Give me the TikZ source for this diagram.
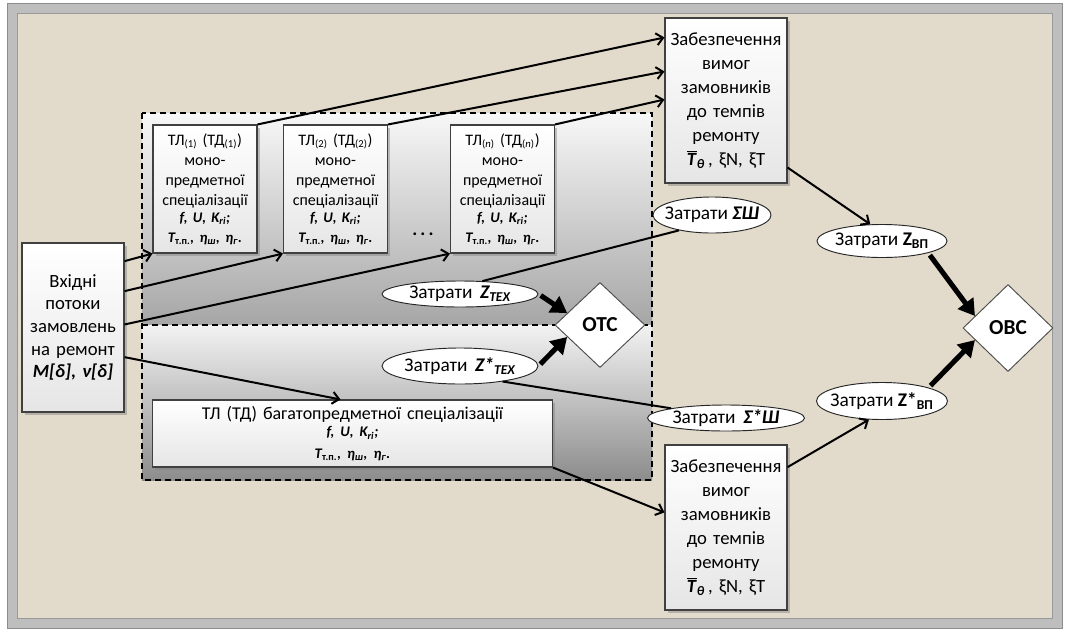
\documentclass[tikz,border=0pt]{standalone}
\usepackage{fontspec}
\setmainfont{Carlito}
\usetikzlibrary{shapes.geometric,arrows.meta,shadows}

\definecolor{polotno}{RGB}{226,218,202}
\definecolor{ramka}{RGB}{190,190,190}

% parametry linii
\newcommand{\fuk}{\textbf{\textit{f, U, K\textsubscript{ri};}}}
\newcommand{\ttn}{\textbf{\textit{T\textsubscript{\textup{т.п.}}, η\textsubscript{ш}, η\textsubscript{г}.}}}
\newcommand{\tempy}{Забезпечення\\вимог\\замовників\\до темпів\\ремонту\\$\overline{\mbox{\textbf{\textit{T}}}}$\textsubscript{\textbf{\textit{θ}}}\,, ξN, ξT}

\tikzset{
  blok/.style={draw=black!75, top color=white, bottom color=white!90!black, line width=0.8pt, align=center,
    inner xsep=2pt, inner ysep=0pt,
    drop shadow={shadow xshift=2pt, shadow yshift=-2pt, opacity=0.45}},
  ovall/.style={ellipse, draw=black!85, fill=white, line width=0.7pt,
    inner xsep=-40pt, inner ysep=-10pt, font=\fontsize{14.5}{16}\selectfont},
  romb/.style={diamond, draw=black!70, fill=white, line width=0.7pt, inner sep=0pt,
    minimum width=67.5pt, font=\bfseries\fontsize{16}{18}\selectfont},
  strilka/.style={line width=1.5pt, -{Straight Barb[length=5pt,width=9pt]}},
  tovsta/.style={line width=3.8pt, shorten <=2pt, -{Triangle[length=12pt,width=14pt]}},
  liniya/.style={line width=1.5pt}
}

\begin{document}
\begin{tikzpicture}[x=0.75pt,y=-0.75pt]
    \useasboundingbox (0,0) rectangle (1068,633);

    % Рамка і полотно
    \draw[fill=ramka, draw=black!45] (7,3) rectangle (1062,628);
    \draw[fill=polotno, draw=black!40] (17,13) rectangle (1052,618);

    % Області моно- і багатопредметної спеціалізації
    \shade[top color=white!97!black, bottom color=black!35] (142,113) rectangle (652,325);
    \shade[top color=white!95!black, bottom color=black!45] (142,325) rectangle (652,480);
    \draw[line width=0.8pt, dash pattern=on 4.5pt off 3pt] (142,113) rectangle (652,480);
    \draw[line width=0.8pt, dash pattern=on 4.5pt off 3pt] (142,325) -- (652,325);

    % Вхідні потоки
    \node[blok, text width=72.5pt, minimum height=126.75pt, font=\fontsize{14}{17}\selectfont]
        (inp) at (73,327.5) {Вхідні\\потоки\\замовлень\\на ремонт\\\textbf{\textit{M[δ], ν[δ]}}};

    % Лінії монопредметної спеціалізації
    \node[blok, text width=74pt, minimum height=96pt, font=\fontsize{12}{15}\selectfont]
        (b1) at (205,189) {ТЛ\textsubscript{(1)} (ТД\textsubscript{(1)})\\моно-\\предметної\\спеціалізації\\{\fontsize{11}{13}\selectfont\fuk\\\ttn}};
    \node[blok, text width=74pt, minimum height=96pt, font=\fontsize{12}{15}\selectfont]
        (b2) at (335.5,189) {ТЛ\textsubscript{(2)} (ТД\textsubscript{(2)})\\моно-\\предметної\\спеціалізації\\{\fontsize{11}{13}\selectfont\fuk\\\ttn}};
    \node[blok, text width=74pt, minimum height=96pt, font=\fontsize{12}{15}\selectfont]
        (bn) at (502.5,189) {ТЛ\textsubscript{(\textit{n})} (ТД\textsubscript{(\textit{n})})\\моно-\\предметної\\спеціалізації\\{\fontsize{11}{13}\selectfont\fuk\\\ttn}};
    \node[font=\bfseries\fontsize{14}{16}\selectfont] (dots) at (423,234) {.\,.\,.};

    % Лінія багатопредметної спеціалізації
    \node[blok, text width=296pt, minimum height=50.25pt, font=\fontsize{13.5}{16}\selectfont]
        (bm) at (352.5,433.5) {ТЛ (ТД) багатопредметної спеціалізації\\{\fontsize{11}{13}\selectfont\fuk\\\ttn}};

    % Вимоги замовників
    \node[blok, text width=87.5pt, minimum height=123.75pt, font=\fontsize{14}{18}\selectfont]
        (zt) at (726,100.5) {\tempy};
    \node[blok, text width=87.5pt, minimum height=123.75pt, font=\fontsize{14}{18}\selectfont]
        (zb) at (726,527.5) {\tempy};

    % Затрати
    \node[ovall, minimum width=88.5pt, minimum height=27pt] (sig) at (712,215) {Затрати \textbf{\textit{ΣШ}}};
    \node[ovall, minimum width=117pt, minimum height=19.5pt] (zte) at (460,294) {Затрати\, \textbf{\textit{Z\textsubscript{TEX}}}};
    \node[ovall, minimum width=117pt, minimum height=27pt] (ztes) at (460,366) {Затрати\, \textbf{\textit{Z*\textsubscript{TEX}}}};
    \node[ovall, minimum width=117.75pt, minimum height=19.5pt] (sst) at (726,418) {Затрати\, \textbf{\textit{Σ*Ш}}};
    \node[ovall, minimum width=97.5pt, minimum height=24.75pt] (zv) at (882,241) {Затрати \textbf{Z\textsubscript{ВП}}};
    \node[ovall, minimum width=98.25pt, minimum height=27.75pt] (zvs) at (882,401) {Затрати \textbf{Z*\textsubscript{ВП}}};

    % Оцінки
    \node[romb, minimum height=63.75pt] (otc) at (600,325) {ОТС};
    \node[romb, minimum height=65.25pt] (ovs) at (1008,328) {ОВС};

    % Потоки
    \draw[strilka] (b1.north east) -- ([yshift=-15pt]zt.north west);
    \draw[strilka] (b2.north east) -- ([yshift=-40.5pt]zt.north west);
    \draw[strilka] (bn.north east) -- ([yshift=-61.5pt]zt.north west);
    \draw[strilka] ([yshift=-14pt]inp.north east) -- (b1.south west);
    \draw[strilka] ([yshift=-36.5pt]inp.north east) -- (b2.south west);
    \draw[strilka] ([yshift=-61.5pt]inp.north east) -- (bn.south west);
    \draw[strilka] ([yshift=-86pt]inp.north east) -- ([xshift=-9pt]bm.north);
    \draw[strilka] (bm.south east) -- ([yshift=-51pt]zb.north west);
    \draw[strilka] ([yshift=12pt]zt.south east) -- (zv.125);
    \draw[strilka] ([yshift=-17pt]zb.north east) -- (zvs.235);
    \draw[liniya] (zte.30) -- (sig.205);
    \draw[liniya] (ztes.-20) -- (sst.170);

    % Товсті стрілки до оцінок
    \draw[tovsta] (zte.east) -- (otc.160);
    \draw[tovsta] (ztes.east) -- (otc.200);
    \draw[tovsta] (zv.south east) -- (ovs.160);
    \draw[tovsta] (zvs.north east) -- (ovs.200);
\end{tikzpicture}
\end{document}
